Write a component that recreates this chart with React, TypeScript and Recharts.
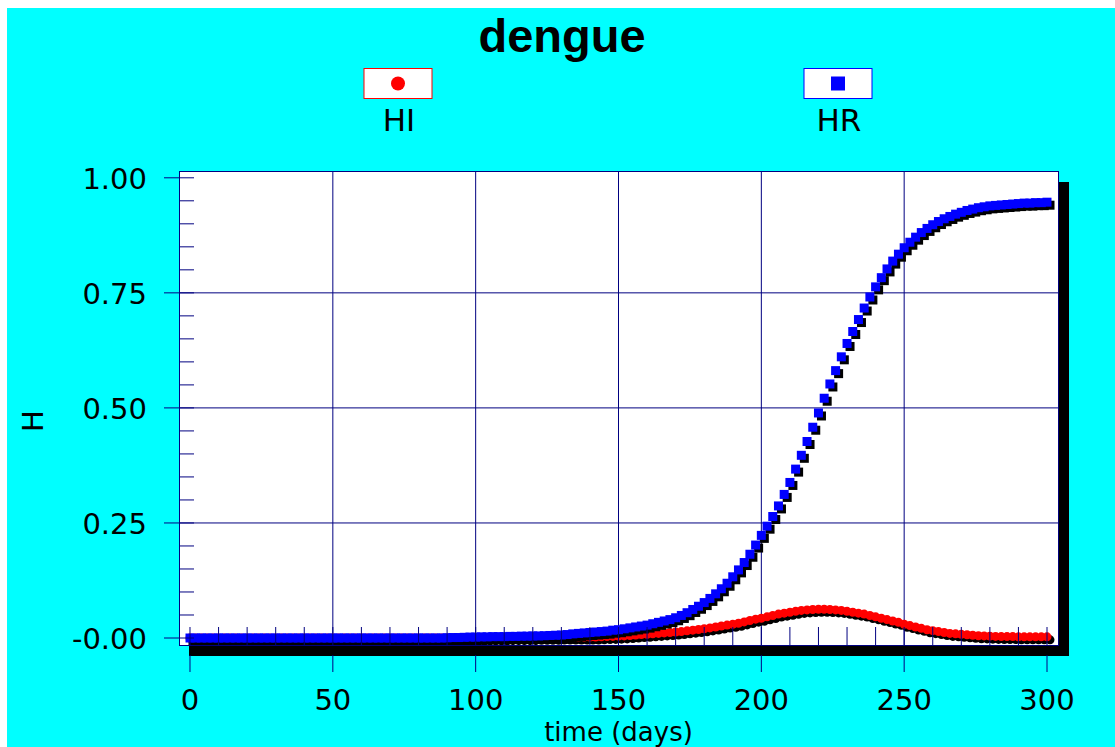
import React from 'react';
import { ComposedChart, Scatter, XAxis, YAxis, ReferenceLine, Legend } from 'recharts';

// sampling days (every 2 days)
const days = [
  0, 2, 4, 6, 8, 10, 12, 14, 16, 18,
  20, 22, 24, 26, 28, 30, 32, 34, 36, 38,
  40, 42, 44, 46, 48, 50, 52, 54, 56, 58,
  60, 62, 64, 66, 68, 70, 72, 74, 76, 78,
  80, 82, 84, 86, 88, 90, 92, 94, 96, 98,
  100, 102, 104, 106, 108, 110, 112, 114, 116, 118,
  120, 122, 124, 126, 128, 130, 132, 134, 136, 138,
  140, 142, 144, 146, 148, 150, 152, 154, 156, 158,
  160, 162, 164, 166, 168, 170, 172, 174, 176, 178,
  180, 182, 184, 186, 188, 190, 192, 194, 196, 198,
  200, 202, 204, 206, 208, 210, 212, 214, 216, 218,
  220, 222, 224, 226, 228, 230, 232, 234, 236, 238,
  240, 242, 244, 246, 248, 250, 252, 254, 256, 258,
  260, 262, 264, 266, 268, 270, 272, 274, 276, 278,
  280, 282, 284, 286, 288, 290, 292, 294, 296, 298,
  300,
];

const hiValues = [
  0, 0, 0, 0, 0, 0, 0, 0, 0, 0,
  0, 0, 0, 0, 0, 0, 0, 0, 0, 0,
  0, 0, 0, 0, 0, 0, 0, 0, 0, 0,
  0, 0, 0, 0, 0, 0, 0, 0, 0, 0,
  0, 0, 0, 0, 0, 0, 0, 0, 0, 0,
  0, 0, 0.0005, 0.0005, 0.0005, 0.0005, 0.001, 0.001, 0.001, 0.001,
  0.001, 0.0015, 0.0015, 0.0015, 0.0015, 0.002, 0.002, 0.002, 0.002, 0.002,
  0.002, 0.002, 0.0025, 0.003, 0.0035, 0.004, 0.0045, 0.0055, 0.0065, 0.0075,
  0.008, 0.009, 0.010, 0.011, 0.012, 0.013, 0.014, 0.0155, 0.017, 0.0185,
  0.020, 0.022, 0.024, 0.026, 0.028, 0.030, 0.032, 0.035, 0.038, 0.041,
  0.043, 0.046, 0.049, 0.052, 0.054, 0.056, 0.058, 0.060, 0.061, 0.062,
  0.0625, 0.0625, 0.062, 0.061, 0.060, 0.058, 0.056, 0.054, 0.052, 0.049,
  0.046, 0.043, 0.040, 0.037, 0.034, 0.030, 0.027, 0.024, 0.021, 0.018,
  0.016, 0.014, 0.012, 0.010, 0.009, 0.008, 0.007, 0.006, 0.005, 0.0045,
  0.004, 0.0035, 0.003, 0.003, 0.003, 0.0025, 0.0025, 0.0025, 0.0025, 0.0025,
  0.0025,
];

const hrValues = [
  0, 0, 0, 0, 0, 0, 0, 0, 0, 0,
  0, 0, 0, 0, 0, 0, 0, 0, 0, 0,
  0, 0, 0, 0, 0, 0, 0, 0, 0, 0,
  0, 0, 0, 0, 0, 0, 0, 0, 0, 0,
  0, 0, 0, 0, 0, 0.0005, 0.001, 0.001, 0.0015, 0.002,
  0.002, 0.0025, 0.0025, 0.003, 0.003, 0.003, 0.0035, 0.0035, 0.004, 0.004,
  0.0045, 0.0045, 0.005, 0.0055, 0.006, 0.0065, 0.0075, 0.009, 0.010, 0.011,
  0.012, 0.013, 0.014, 0.015, 0.017, 0.018, 0.020, 0.022, 0.024, 0.026,
  0.028, 0.031, 0.034, 0.037, 0.040, 0.044, 0.049, 0.055, 0.062, 0.069,
  0.077, 0.086, 0.096, 0.107, 0.119, 0.133, 0.148, 0.164, 0.182, 0.202,
  0.223, 0.243, 0.264, 0.287, 0.312, 0.338, 0.367, 0.397, 0.427, 0.458,
  0.489, 0.521, 0.552, 0.581, 0.611, 0.640, 0.666, 0.692, 0.717, 0.741,
  0.763, 0.783, 0.802, 0.819, 0.834, 0.848, 0.860, 0.871, 0.881, 0.890,
  0.898, 0.905, 0.911, 0.916, 0.921, 0.925, 0.929, 0.932, 0.935, 0.937,
  0.939, 0.940, 0.941, 0.942, 0.943, 0.944, 0.945, 0.945, 0.946, 0.946,
  0.947,
];

const xTicks = [
  0, 10, 20, 30, 40, 50, 60, 70, 80, 90, 100, 110, 120, 130, 140, 150,
  160, 170, 180, 190, 200, 210, 220, 230, 240, 250, 260, 270, 280, 290, 300,
];
const xMajor = [0, 50, 100, 150, 200, 250, 300];
const xGrid = [50, 100, 150, 200, 250];

const yTicks = [
  0, 0.05, 0.1, 0.15, 0.2, 0.25, 0.3, 0.35, 0.4, 0.45, 0.5,
  0.55, 0.6, 0.65, 0.7, 0.75, 0.8, 0.85, 0.9, 0.95, 1,
];
const yMajor = [0, 0.25, 0.5, 0.75, 1];
const yLabels = ['-0.00', '0.25', '0.50', '0.75', '1.00'];
const yGrid = [0.25, 0.5, 0.75];

const seriesNames = ['HI', 'HR'];
const seriesColors = ['#ff0000', '#0000ff'];

const hiData = days.map((d, i) => ({ day: d, v: hiValues[i] }));
const hrData = days.map((d, i) => ({ day: d, v: hrValues[i] }));

const NAVY = '#000080';
const FONT = '"DejaVu Sans", Verdana, sans-serif';

const XTick = (props: any) => {
  const { x, y, payload } = props;
  const v = payload.value;
  const major = xMajor.includes(v);
  return (
    <g>
      <line x1={x} x2={x} y1={y - 18} y2={y} stroke={NAVY} strokeWidth={1} />
      {major && <line x1={x} x2={x} y1={y + 10} y2={y + 27} stroke={NAVY} strokeWidth={1} />}
      {major && (
        <text x={x} y={y + 65} textAnchor="middle" fontFamily={FONT} fontSize={29} fill="#000">
          {String(v)}
        </text>
      )}
    </g>
  );
};

const YTick = (props: any) => {
  const { x, y, payload } = props;
  const idx = yMajor.findIndex((m) => Math.abs(m - payload.value) < 1e-6);
  const major = idx >= 0;
  return (
    <g>
      <line x1={major ? x - 15 : x} x2={x + 15} y1={y} y2={y} stroke={NAVY} strokeWidth={1} />
      {major && (
        <text x={x - 32} y={y + 11} textAnchor="end" fontFamily={FONT} fontSize={29} fill="#000">
          {yLabels[idx]}
        </text>
      )}
    </g>
  );
};

const circleShape = (color: string, d: number) => (p: any) =>
  <circle cx={p.cx + d} cy={p.cy + d} r={4.5} fill={color} />;
const squareShape = (color: string, d: number) => (p: any) =>
  <rect x={p.cx - 4.5 + d} y={p.cy - 4.5 + d} width={9} height={9} fill={color} />;

const legendCenters = [398, 838];

const renderLegend = () => (
  <svg width={1115} height={140} style={{ display: 'block' }}>
    {seriesNames.map((name, i) => (
      <g key={name}>
        <rect x={legendCenters[i] - 34} y={68.5} width={68} height={30} fill="#fff" stroke={seriesColors[i]} strokeWidth={1} />
        {i === 0 ? (
          <circle cx={legendCenters[i]} cy={83.5} r={7} fill={seriesColors[i]} />
        ) : (
          <rect x={legendCenters[i] - 7} y={76.5} width={14} height={14} fill={seriesColors[i]} />
        )}
        <text x={legendCenters[i] + 1} y={131} textAnchor="middle" fontFamily={FONT} fontSize={31} fill="#000">
          {name}
        </text>
      </g>
    ))}
  </svg>
);

export default function App() {
  return (
    <div style={{ position: 'fixed', left: 0, top: 0, width: 1115, height: 747, overflow: 'hidden', background: '#fff' }}>
      <div style={{ position: 'absolute', left: 7, top: 8, right: 0, bottom: 0, background: '#00ffff' }} />
      {/* plot shadow + white plot area */}
      <div style={{ position: 'absolute', left: 189, top: 182, width: 880, height: 474, background: '#000' }} />
      <div style={{ position: 'absolute', left: 179, top: 171, width: 880, height: 475, boxSizing: 'border-box', background: '#fff', border: `1px solid ${NAVY}` }} />
      <div style={{ position: 'absolute', left: 0, top: 0 }}>
        <ComposedChart width={1115} height={747} margin={{ top: 172, right: 57, bottom: 42, left: 119 }}>
          <XAxis
            type="number"
            dataKey="day"
            domain={[-3.85, 303.85]}
            allowDataOverflow
            ticks={xTicks}
            interval={0}
            tick={<XTick />}
            tickSize={0}
            tickMargin={0}
            tickLine={false}
            axisLine={false}
            height={60}
            label={{ value: 'time (days)', position: 'bottom', offset: 17.5, fontSize: 26, fontFamily: FONT, fill: '#000' }}
          />
          <YAxis
            type="number"
            dataKey="v"
            domain={[-0.0152, 1.0126]}
            allowDataOverflow
            ticks={yTicks}
            interval={0}
            tick={<YTick />}
            tickSize={0}
            tickMargin={0}
            tickLine={false}
            axisLine={false}
            width={60}
          />
          {xGrid.map((g) => (
            <ReferenceLine key={'x' + g} x={g} stroke={NAVY} strokeWidth={1} />
          ))}
          {yGrid.map((g) => (
            <ReferenceLine key={'y' + g} y={g} stroke={NAVY} strokeWidth={1} />
          ))}
          <Legend
            layout="horizontal"
            verticalAlign="middle"
            align="center"
            content={renderLegend}
            wrapperStyle={{ top: 0, left: 0, width: 1115, height: 140 }}
          />
          <Scatter name="HI shadow" data={hiData} fill="#000" shape={circleShape('#000', 3)} legendType="none" isAnimationActive={false} />
          <Scatter name={seriesNames[0]} data={hiData} fill={seriesColors[0]} shape={circleShape(seriesColors[0], 0)} isAnimationActive={false} />
          <Scatter name="HR shadow" data={hrData} fill="#000" shape={squareShape('#000', 3)} legendType="none" isAnimationActive={false} />
          <Scatter name={seriesNames[1]} data={hrData} fill={seriesColors[1]} shape={squareShape(seriesColors[1], 0)} isAnimationActive={false} />
        </ComposedChart>
      </div>
      <svg width={1115} height={747} style={{ position: 'absolute', left: 0, top: 0, pointerEvents: 'none' }}>
        <text x={562} y={52} textAnchor="middle" fontFamily='"Liberation Sans", Arial, sans-serif' fontWeight="bold" fontSize={47} fill="#000">
          dengue
        </text>
        <text transform="translate(43,421) rotate(-90)" textAnchor="middle" fontFamily={FONT} fontSize={29} fill="#000">
          H
        </text>
      </svg>
    </div>
  );
}
